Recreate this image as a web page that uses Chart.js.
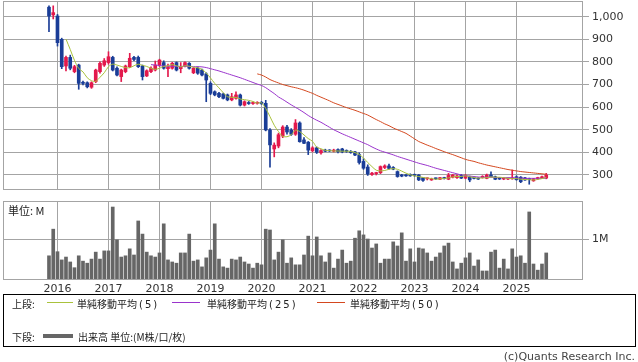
<!DOCTYPE html>
<html><head><meta charset="utf-8">
<script src="https://cdn.jsdelivr.net/npm/chart.js@4.4.1/dist/chart.umd.min.js"></script>
<style>
html,body{margin:0;padding:0;background:#fff;}
#wrap{position:relative;width:638px;height:362px;overflow:hidden;background:#fff;font-family:"DejaVu Sans",sans-serif;}
canvas{position:absolute;left:0;}
.t{position:absolute;white-space:nowrap;font-family:"Noto Sans CJK JP","DejaVu Sans",sans-serif;font-size:10px;line-height:13px;color:#222;}
.p{font-family:"DejaVu Sans",sans-serif;letter-spacing:2px;margin-left:2px;}
.ln{position:absolute;height:1px;}
#legend{position:absolute;left:3px;top:294px;width:633px;height:53px;border:1px solid #000;box-sizing:border-box;}
#copy{position:absolute;right:3px;top:350px;font-family:"DejaVu Sans",sans-serif;font-size:11px;line-height:13px;color:#444;white-space:nowrap;}
</style></head>
<body>
<div id="wrap">
  <canvas id="price" width="638" height="195" style="top:0"></canvas>
  <canvas id="vol" width="638" height="100" style="top:195px"></canvas>
  <div class="t" style="left:8px;top:204px;font-size:11px;">単位: M</div>
  <div id="legend"></div>
  <div class="t" style="left:12px;top:297px;">上段:</div>
  <div class="ln" id="l5" style="left:47px;top:302px;width:26px;"></div>
  <div class="t" style="left:77px;top:297px;">単純移動平均<span class="p">(5)</span></div>
  <div class="ln" id="l25" style="left:172px;top:302px;width:28px;"></div>
  <div class="t" style="left:207px;top:297px;">単純移動平均<span class="p">(25)</span></div>
  <div class="ln" id="l50" style="left:317px;top:302px;width:28px;"></div>
  <div class="t" style="left:350px;top:297px;">単純移動平均<span class="p">(50)</span></div>
  <div class="t" style="left:12px;top:330px;">下段:</div>
  <div class="ln" style="left:43px;top:334px;width:30px;height:4px;background:#666;"></div>
  <div class="t" style="left:78px;top:330px;">出来高 単位:(M株/口/枚)</div>
  <div id="copy">(c)Quants Research Inc.</div>
</div>
<script>
// ---- data (monthly, first candle = 2015-11) ----
const START_YEAR = 2015, START_MONTH = 11;
const opens = [1042,1008,1003,900,782,820,757,786,710,708,
  688,713,757,786,797,820,772,735,757,779,
  820,820,782,738,757,764,786,797,770,772,
  797,770,782,794,752,772,764,747,705,668,
  661,658,654,632,639,654,609,620,616,617,
  621,617,499,415,428,472,512,498,480,530,
  455,445,407,420,398,410,408,405,412,415,
  408,404,402,390,360,335,302,306,310,333,
  340,333,315,300,300,302,302,300,288,283,
  278,285,281,286,281,290,288,298,286,292,
  288,285,288,285,300,292,285,282,282,283,
  292,290,287,283,274,284,286,286];
const highs = [1048,1048,1010,905,826,830,785,790,715,712,
  712,768,800,815,845,825,778,768,786,838,
  825,826,786,765,778,804,812,805,790,798,
  800,797,800,797,775,778,768,752,712,672,
  665,662,658,661,668,658,628,625,624,624,
  625,630,505,442,485,518,520,505,545,535,
  465,448,425,424,412,414,412,414,416,418,
  411,408,405,398,372,345,312,312,340,345,
  348,337,318,303,302,305,304,302,290,287,
  286,287,290,290,307,302,301,302,302,295,
  291,288,297,304,314,295,288,289,286,322,
  296,293,290,286,285,290,295,307];
const lows = [934,990,870,770,760,765,752,679,698,685,
  683,708,750,780,790,760,738,713,752,775,
  805,775,720,735,752,760,780,768,735,768,
  760,752,778,768,748,745,738,624,655,650,
  642,636,628,628,635,605,605,612,612,613,
  612,495,335,380,420,465,480,475,475,445,
  438,390,402,395,392,403,404,402,398,398,
  400,396,385,348,325,298,298,300,306,328,
  326,323,290,292,294,294,294,275,272,278,
  276,280,279,282,279,287,285,284,283,270,
  283,280,286,283,291,279,280,279,279,281,
  277,266,276,259,272,280,284,283];
const closes = [1003,1018,885,779,820,772,779,705,705,690,
  708,764,794,805,823,764,742,764,782,816,
  811,779,735,761,772,786,808,772,778,794,
  764,780,797,772,772,750,742,720,661,654,
  646,639,632,646,654,609,624,616,620,621,
  616,499,433,432,478,512,490,480,530,447,
  440,410,420,400,408,405,406,410,403,402,
  404,399,388,355,330,304,308,309,337,340,
  329,326,293,295,296,296,298,278,276,284,
  282,283,288,284,298,300,296,286,298,278,
  285,282,294,300,292,281,282,286,284,287,
  279,270,278,280,283,288,292,300];
// volume, millions of shares
const volumes = [0.59,1.24,0.69,0.49,0.56,0.44,0.30,0.59,0.46,0.41,
  0.51,0.68,0.51,0.71,0.71,1.78,0.98,0.56,0.59,0.76,
  0.61,1.44,1.12,0.68,0.59,0.56,0.66,1.37,0.49,0.44,
  0.41,0.66,0.66,1.12,0.46,0.49,0.32,0.54,0.73,1.37,
  0.51,0.32,0.29,0.51,0.49,0.56,0.44,0.39,0.29,0.41,
  0.37,1.24,1.22,0.49,0.68,0.98,0.41,0.54,0.37,0.37,
  0.61,1.07,0.59,1.05,0.59,0.44,0.66,0.29,0.51,0.73,
  0.41,0.46,1.02,1.20,1.10,1.00,0.78,0.88,0.41,0.51,
  0.51,0.93,0.83,1.15,0.46,0.76,0.44,0.78,0.76,0.66,
  0.46,0.56,0.66,0.83,0.90,0.44,0.27,0.41,0.54,0.66,
  0.34,0.49,0.22,0.22,0.68,0.73,0.29,0.51,0.27,0.76,
  0.56,0.59,0.41,1.66,0.39,0.24,0.39,0.66];
// simple moving averages (first value at month index period-1)
const ma5 = [901,855,807,771,756,730,717,714,732,752,
  779,790,786,780,775,774,783,790,785,780,
  772,767,772,780,783,788,783,778,783,781,
  777,774,767,751,729,705,685,664,646,643,
  643,636,633,630,625,618,619,594,558,520,
  492,471,469,478,498,492,477,461,449,423,
  416,409,408,406,406,405,405,404,399,390,
  375,355,337,321,318,320,325,328,325,317,
  308,301,296,293,289,286,284,281,283,284,
  287,291,293,293,296,292,289,286,287,288,
  291,290,290,288,285,284,284,281,280,279,
  278,280,284,289];
const ma25 = [788,786,784,782,781,781,780,780,781,780,
  779,779,778,775,770,765,760,754,748,742,
  736,730,723,716,709,702,696,686,673,660,
  645,634,622,610,599,588,576,563,552,542,
  533,522,511,500,491,482,474,466,458,450,
  442,434,424,415,407,401,395,389,382,376,
  370,364,358,352,347,342,336,330,325,320,
  315,310,305,300,297,295,293,291,290,290,
  290,289,288,288,288,288,287,286,285,285,
  285,285,285,286];
const ma50 = [747,742,733,722,714,707,700,695,690,686,
  681,675,668,661,652,644,636,628,619,612,
  605,598,592,586,579,572,565,555,545,536,
  526,518,508,500,492,484,472,460,448,440,
  432,425,417,410,403,396,390,383,376,369,
  364,360,354,349,344,340,336,332,328,324,
  321,318,315,313,311,309,307,305,303];
const priceTicks = [300,400,500,600,700,800,900,1000];
const volTicks = [1];

// ---- derived labels ----
const months = closes.map((_, i) => {
  const m = START_MONTH - 1 + i;
  return (START_YEAR + Math.floor(m / 12)) + '-' + String(m % 12 + 1).padStart(2, '0');
});
const janIdx = months.map((m, i) => m.endsWith('-01') ? i : -1).filter(i => i >= 0);

// ---- styles ----
const GRID = '#a4a4a4';
const UP = '#e3194c', DOWN = '#1a3d97';
const C5 = '#a9c23c', C25 = '#9a34cc', C50 = '#d4481f';
document.getElementById('l5').style.background = C5;
document.getElementById('l25').style.background = C25;
document.getElementById('l50').style.background = C50;
Chart.defaults.font.family = 'DejaVu Sans';
Chart.defaults.animation = false;

const X_MIN = -10.82, X_MAX = 125.65;
const frame = {
  id: 'frame',
  afterDatasetsDraw(chart) {
    const {ctx, chartArea: a} = chart;
    ctx.save();
    ctx.strokeStyle = GRID; ctx.lineWidth = 1;
    ctx.strokeRect(Math.round(a.left) + 0.5, Math.round(a.top) + 0.5,
      Math.round(a.right - a.left) - 1, Math.round(a.bottom - a.top) - 1);
    ctx.restore();
  }
};
const colorOf = i => closes[i] >= opens[i] ? UP : DOWN;
const maPoints = (arr, period) => arr.map((v, k) => ({x: k + period - 1, y: v}));
const xGrid = {
  type: 'linear', min: X_MIN, max: X_MAX, offset: false,
  grid: {color: GRID, drawTicks: false, offset: false}, border: {display: false},
  afterBuildTicks: s => { s.ticks = janIdx.map(v => ({value: v})); }
};

new Chart(document.getElementById('price'), {
  type: 'bar',
  data: {
    datasets: [
      {type: 'line', data: maPoints(ma5, 5), borderColor: C5, borderWidth: 1, pointRadius: 0, tension: 0.3, order: 0},
      {type: 'line', data: maPoints(ma25, 25), borderColor: C25, borderWidth: 1, pointRadius: 0, tension: 0.3, order: 0},
      {type: 'line', data: maPoints(ma50, 50), borderColor: C50, borderWidth: 1, pointRadius: 0, tension: 0.3, order: 0},
      {data: closes.map((_, i) => ({x: i, y: [lows[i], highs[i]]})), backgroundColor: c => colorOf(c.dataIndex),
        barThickness: 1, grouped: false, borderWidth: 0, order: 2},
      {data: closes.map((_, i) => ({x: i, y: [opens[i], closes[i]]})), backgroundColor: c => colorOf(c.dataIndex),
        barThickness: 3, grouped: false, borderWidth: 0, minBarLength: 1, order: 1}
    ]
  },
  options: {
    responsive: false, devicePixelRatio: 1,
    layout: {padding: {left: 3, top: 1, right: 0, bottom: 5}},
    plugins: {legend: {display: false}, tooltip: {enabled: false}},
    scales: {
      x: Object.assign({}, xGrid, {
        ticks: {display: false},
        afterFit: s => { s.height = 0; s.paddingLeft = 0; s.paddingRight = 0; }
      }),
      y: {
        type: 'linear', position: 'right', min: 233.5, max: 1069.4,
        grid: {color: GRID, tickLength: 6}, border: {display: false},
        ticks: {color: '#333', font: {size: 11}, padding: 3,
          callback: v => v.toLocaleString('en-US')},
        afterBuildTicks: s => { s.ticks = priceTicks.map(v => ({value: v})); },
        afterFit: s => { s.width = 55; s.paddingTop = 0; s.paddingBottom = 0; }
      }
    }
  },
  plugins: [frame]
});

new Chart(document.getElementById('vol'), {
  type: 'bar',
  data: {
    datasets: [
      {data: volumes.map((v, i) => ({x: i, y: v})), backgroundColor: '#666666',
        barThickness: 3, borderWidth: 0}
    ]
  },
  options: {
    responsive: false, devicePixelRatio: 1,
    layout: {padding: {left: 3, top: 6, right: 0, bottom: 0}},
    plugins: {legend: {display: false}, tooltip: {enabled: false}},
    scales: {
      x: Object.assign({}, xGrid, {
        ticks: {display: true, color: '#333', font: {size: 11}, padding: 3,
          maxRotation: 0, autoSkip: false, callback: v => months[v] ? months[v].slice(0, 4) : ''},
        afterFit: s => { s.height = 15; s.paddingLeft = 0; s.paddingRight = 0; }
      }),
      y: {
        type: 'linear', position: 'right', min: 0, max: 1.927,
        grid: {color: GRID, tickLength: 6}, border: {display: false},
        ticks: {color: '#333', font: {size: 11}, padding: 3, callback: v => v + 'M'},
        afterBuildTicks: s => { s.ticks = volTicks.map(v => ({value: v})); },
        afterFit: s => { s.width = 55; s.paddingTop = 0; s.paddingBottom = 0; }
      }
    }
  },
  plugins: [frame]
});
</script>
</body></html>
